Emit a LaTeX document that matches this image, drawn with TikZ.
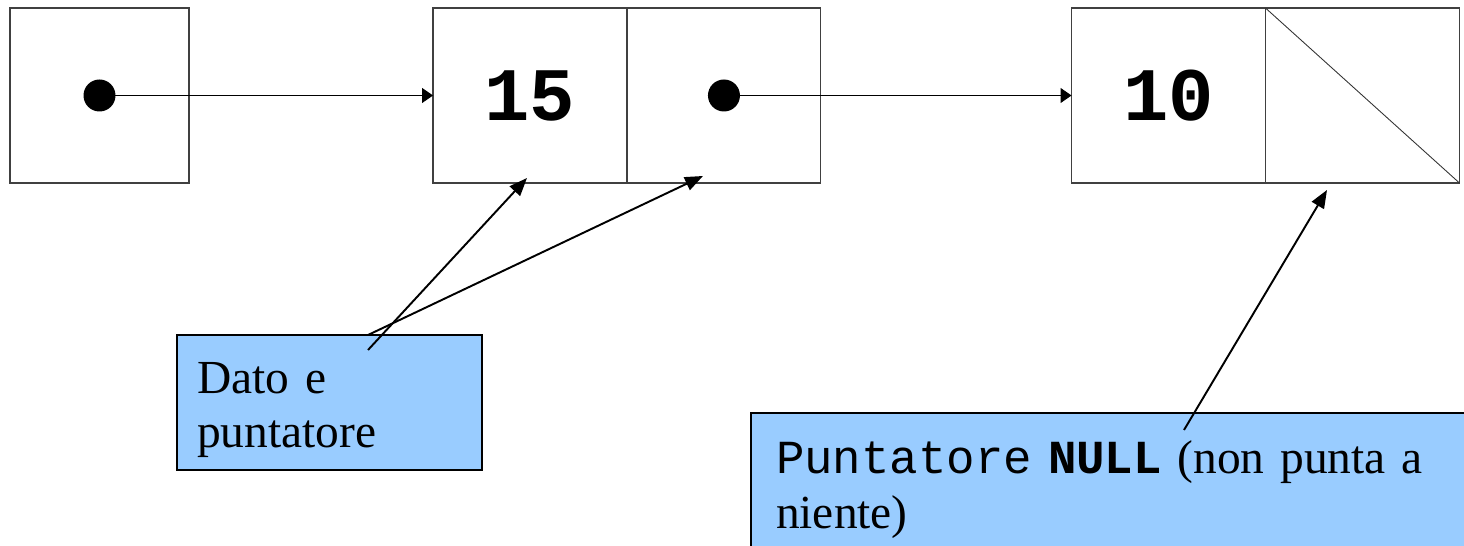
\documentclass[tikz,border=0pt]{standalone}
\usepackage{fontspec}
\setmainfont{Liberation Serif}
\setmonofont{Liberation Mono}
\usetikzlibrary{arrows.meta,positioning}

\definecolor{notefill}{HTML}{99CCFF}

\tikzset{
  cell/.style={draw=black!75, line width=0.6pt, minimum width=3.88cm,
    minimum height=3.5cm, inner sep=0pt, outer sep=0pt},
  val/.style={font=\ttfamily\bfseries\fontsize{43}{43}\selectfont},
  dot/.style={circle, fill=black, minimum size=0.64cm, inner sep=0pt},
  link/.style={line width=0.6pt, -{Triangle[length=0.22cm,width=0.3cm]}},
  note/.style={draw=black, line width=1.2pt, fill=notefill, align=left,
    font=\fontsize{27}{31}\selectfont, inner sep=0pt},
  hint/.style={line width=1.1pt, -{Triangle[length=0.36cm,width=0.28cm]}},
}

\begin{document}
\begin{tikzpicture}[x=0.02cm,y=-0.02cm]
  \useasboundingbox (0,0) rectangle (1464,546);
  \clip (0,0) rectangle (1464,546);

  % testa della lista
  \node[cell, minimum width=3.58cm] (head) at (99.5,95.5) {};
  \node[dot] (hd) at (head.center) {};

  % primo elemento
  \node[cell, val] (data1) at (530,95.5) {15};
  \node[cell, right=0pt of data1] (next1) {};
  \node[dot] (nd) at (next1.center) {};

  % ultimo elemento
  \node[cell, val] (data2) at (1168.5,95.5) {10};
  \node[cell, right=0pt of data2] (nullc) {};
  \draw[line width=0.5pt, black!80] (nullc.north west) -- (nullc.south east);

  \draw[link] (hd.center) -- (data1.west);
  \draw[link] (nd.center) -- (data2.west);

  % note
  \node[note, anchor=north west, minimum width=6.1cm, minimum height=2.7cm,
    text width=5.3cm, inner xsep=0.38cm] (dato) at (176,334)
    {\rule{0pt}{26pt}Dato e\\puntatore};
  \node[note, anchor=north west, minimum width=15cm, minimum height=3.06cm,
    text width=14cm, inner xsep=0.41cm] (nullnote) at (750,412)
    {{\ttfamily Puntatore \textbf{NULL}} (non punta a\\niente)};

  \coordinate (d1) at (368,350);
  \coordinate (d2) at (368,335);
  \coordinate (n1) at (1184,430);
  \coordinate (t1) at (527,178);
  \coordinate (t2) at (703,176);
  \coordinate (t3) at (1327,190);

  \draw[hint] (d1) -- (t1);
  \draw[hint] (d2) -- (t2);
  \draw[hint] (n1) -- (t3);
\end{tikzpicture}
\end{document}
